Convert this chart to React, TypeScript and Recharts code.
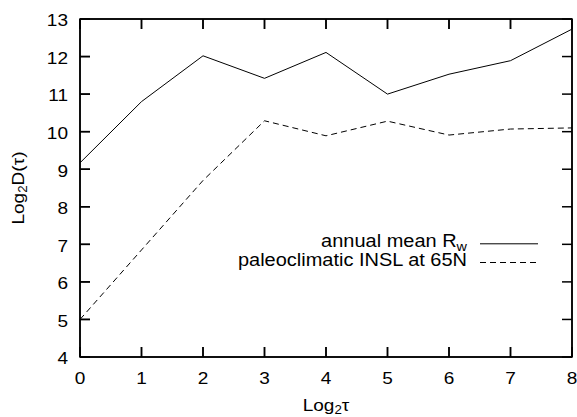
import { LineChart, Line, XAxis, YAxis, Legend, Label } from 'recharts';

const LOG_TAU = [0, 1, 2, 3, 4, 5, 6, 7, 8];
const ANNUAL_RW = [9.17, 10.8, 12.02, 11.42, 12.11, 11.0, 11.53, 11.89, 12.73];
const INSL_65N = [5.0, 6.85, 8.7, 10.29, 9.89, 10.28, 9.91, 10.07, 10.1];
const X_TICKS = [0, 1, 2, 3, 4, 5, 6, 7, 8];
const Y_TICKS = [4, 5, 6, 7, 8, 9, 10, 11, 12, 13];

const data = LOG_TAU.map((x, i) => ({ x, rw: ANNUAL_RW[i], insl: INSL_65N[i] }));

if (typeof document !== 'undefined') document.body.style.margin = '0';

const W = 577;
const H = 417;
const MARGIN = { top: 19, right: 5, bottom: 60, left: 80 };
const X_DOMAIN = [0, 8];
const Y_DOMAIN = [4, 13];

const FONT = "'Liberation Sans', Arial, Helvetica, sans-serif";
const DASH = '6 4';
const TICK_LEN = 10;

function SText({ x, y, anchor = 'middle', size = 17, sx = 1.12, rotate = 0, children }: any) {
  return (
    <text
      transform={`translate(${x},${y}) rotate(${rotate}) scale(${sx},1)`}
      textAnchor={anchor}
      fontFamily={FONT}
      fontSize={size}
      fill="#000"
    >
      {children}
    </text>
  );
}

// axes are mirrored with tickSize 0, so (x, y) is the point on the frame
const BottomTick = ({ x, y, payload }: any) => (
  <g>
    <line x1={x} x2={x} y1={y} y2={y - TICK_LEN} stroke="#000" strokeWidth={1.5} />
    <SText x={x} y={y + 27}>{payload.value}</SText>
  </g>
);

const TopTick = ({ x, y }: any) => (
  <line x1={x} x2={x} y1={y} y2={y + TICK_LEN} stroke="#000" strokeWidth={1.5} />
);

const LeftTick = ({ x, y, payload }: any) => (
  <g>
    <line x1={x} x2={x + TICK_LEN} y1={y} y2={y} stroke="#000" strokeWidth={1.5} />
    <SText x={x - 12} y={y + 7.3} anchor="end">{payload.value}</SText>
  </g>
);

const RightTick = ({ x, y }: any) => (
  <line x1={x} x2={x - TICK_LEN} y1={y} y2={y} stroke="#000" strokeWidth={1.5} />
);

// gnuplot-style frame with inward ticks on all four sides (overlay copy)
const L = MARGIN.left;
const R = W - MARGIN.right;
const T = MARGIN.top;
const B = H - MARGIN.bottom;
const px = (v: number) => L + ((v - X_DOMAIN[0]) / (X_DOMAIN[1] - X_DOMAIN[0])) * (R - L);
const py = (v: number) => B - ((v - Y_DOMAIN[0]) / (Y_DOMAIN[1] - Y_DOMAIN[0])) * (B - T);

const Frame = () => (
  <g stroke="#000" strokeWidth={1.5} fill="none">
    <rect x={L} y={T} width={R - L} height={B - T} />
    {X_TICKS.map((v) => (
      <g key={`x${v}`}>
        <line x1={px(v)} x2={px(v)} y1={B} y2={B - TICK_LEN} />
        <line x1={px(v)} x2={px(v)} y1={T} y2={T + TICK_LEN} />
      </g>
    ))}
    {Y_TICKS.map((v) => (
      <g key={`y${v}`}>
        <line x1={L} x2={L + TICK_LEN} y1={py(v)} y2={py(v)} />
        <line x1={R} x2={R - TICK_LEN} y1={py(v)} y2={py(v)} />
      </g>
    ))}
  </g>
);

const legendRows = [
  { main: 'annual mean R', sub: 'w', dash: undefined as string | undefined },
  { main: 'paleoclimatic INSL at 65N', sub: '', dash: DASH },
];

const renderLegend = () => (
  <svg width={W} height={H} style={{ display: 'block' }}>
    <Frame />
    {legendRows.map((r, i) => {
      const base = 247.3 + i * 18.7;
      return (
        <g key={r.main}>
          <SText x={467} y={base} anchor="end" size={18.5} sx={1.08}>
            {r.main}
            {r.sub && (
              <tspan fontSize="0.72em" dy={3.5}>{r.sub}</tspan>
            )}
          </SText>
          <line x1={480} x2={538} y1={base - 3.5} y2={base - 3.5} stroke="#000" strokeWidth={1} strokeDasharray={r.dash} />
        </g>
      );
    })}
  </svg>
);

const axisStroke = { stroke: '#000', strokeWidth: 1.5 };

export default function App() {
  return (
    <div style={{ width: W, height: H, background: '#fff' }}>
      <LineChart width={W} height={H} data={data} margin={MARGIN}>
        <XAxis
          dataKey="x"
          type="number"
          domain={X_DOMAIN}
          ticks={X_TICKS}
          interval={0}
          height={60}
          mirror
          tickSize={0}
          tickMargin={0}
          tickLine={false}
          tick={BottomTick}
          axisLine={axisStroke}
        >
          <Label
            content={({ viewBox }: any) => (
              <SText x={viewBox.x + viewBox.width / 2} y={viewBox.y + viewBox.height + 54}>
                Log<tspan fontSize="0.7em" dy={3}>2</tspan><tspan dy={-3}>τ</tspan>
              </SText>
            )}
          />
        </XAxis>
        <XAxis
          xAxisId="top"
          orientation="top"
          type="number"
          domain={X_DOMAIN}
          ticks={X_TICKS}
          interval={0}
          height={10}
          mirror
          tickSize={0}
          tickMargin={0}
          tickLine={false}
          tick={TopTick}
          axisLine={axisStroke}
        />
        <YAxis
          type="number"
          domain={Y_DOMAIN}
          ticks={Y_TICKS}
          interval={0}
          width={80}
          mirror
          tickSize={0}
          tickMargin={0}
          tickLine={false}
          tick={LeftTick}
          axisLine={axisStroke}
        >
          <Label
            content={({ viewBox }: any) => (
              <SText x={viewBox.x - 55.7} y={viewBox.y + viewBox.height / 2} rotate={-90}>
                Log<tspan fontSize="0.7em" dy={3}>2</tspan><tspan dy={-3}>D(τ)</tspan>
              </SText>
            )}
          />
        </YAxis>
        <YAxis
          yAxisId="right"
          orientation="right"
          type="number"
          domain={Y_DOMAIN}
          ticks={Y_TICKS}
          interval={0}
          width={10}
          mirror
          tickSize={0}
          tickMargin={0}
          tickLine={false}
          tick={RightTick}
          axisLine={axisStroke}
        />
        <Legend
          layout="vertical"
          align="center"
          verticalAlign="middle"
          content={renderLegend}
          wrapperStyle={{ left: 0, top: 0, width: W, height: H, pointerEvents: 'none' }}
        />
        <Line type="linear" dataKey="rw" name="annual mean Rw" stroke="#000" strokeWidth={1} dot={false} isAnimationActive={false} />
        <Line type="linear" dataKey="insl" name="paleoclimatic INSL at 65N" stroke="#000" strokeWidth={1} strokeDasharray={DASH} dot={false} isAnimationActive={false} />
      </LineChart>
    </div>
  );
}
